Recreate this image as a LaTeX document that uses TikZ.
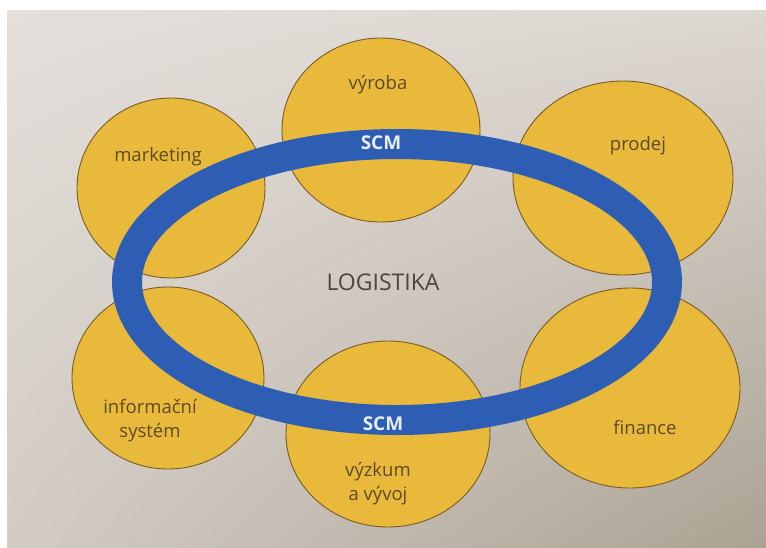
\documentclass[tikz,border=0pt]{standalone}
\usepackage{fontspec}
\setmainfont{Open Sans}
\usetikzlibrary{shapes.geometric,shadings}

\definecolor{pagetl}{HTML}{E4DFDB}
\definecolor{pagetr}{HTML}{DDD7D1}
\definecolor{pagebl}{HTML}{D3CCC5}
\definecolor{pagebr}{HTML}{ABA293}
\definecolor{bubblefill}{HTML}{E8B93A}
\definecolor{bubbleline}{HTML}{7A5C24}
\definecolor{ringblue}{HTML}{2E5DB4}
\definecolor{labeltext}{HTML}{5E4A1E}
\definecolor{centertext}{HTML}{4A4641}
\definecolor{scmtext}{HTML}{E9ECF2}

\begin{document}
\begin{tikzpicture}[x=1pt,y=-1pt,
  bubble/.style={ellipse, draw=bubbleline, line width=0.9pt, fill=bubblefill,
    inner sep=0pt},
  ringstyle/.style={ellipse, draw=ringblue, line width=30pt, inner sep=0pt},
  lbl/.style={text=labeltext, font=\fontsize{18.5}{24}\selectfont, align=center,
    inner sep=0pt},
  scm/.style={text=scmtext, font=\bfseries\fontsize{19}{20}\selectfont, inner sep=0pt},
  center/.style={text=centertext, font=\fontsize{23}{26}\selectfont, inner sep=0pt}]

  % page background with its white margin
  \useasboundingbox (0,0) rectangle (766,547);
  \fill[white] (0,0) rectangle (766,547);
  \shade[upper left=pagetl, upper right=pagetr, lower left=pagebl,
    lower right=pagebr] (7,10) rectangle (766,547);

  % the six functional areas
  \node[bubble, minimum width=198pt, minimum height=184pt] (vyroba)    at (381,130) {};
  \node[bubble, minimum width=188pt, minimum height=180pt] (marketing) at (171,188) {};
  \node[bubble, minimum width=220pt, minimum height=194pt] (prodej)    at (623,178) {};
  \node[bubble, minimum width=192pt, minimum height=182pt] (infosys)   at (168,378) {};
  \node[bubble, minimum width=204pt, minimum height=186pt] (vyzkum)    at (388,434) {};
  \node[bubble, minimum width=220pt, minimum height=200pt] (finance)   at (630,388) {};

  % the SCM ring linking them
  \node[ringstyle, minimum width=540pt, minimum height=276pt] (ring) at (397,282) {};

  % texts
  \node[lbl] (tvyroba)    at (378,85)  {výroba};
  \node[lbl] (tmarketing) at (158,157) {marketing};
  \node[lbl] (tprodej)    at (638,146) {prodej};
  \node[lbl] (tinfosys)   at (150,421) {informační\\systém};
  \node[lbl] (tvyzkum)    at (378,484) {výzkum\\a vývoj};
  \node[lbl] (tfinance)   at (645,428) {finance};
  \node[scm] (scmtop)     at (381,143) {SCM};
  \node[scm] (scmbottom)  at (383,424) {SCM};
  \node[center] (logistika) at (383,282) {LOGISTIKA};
\end{tikzpicture}
\end{document}
